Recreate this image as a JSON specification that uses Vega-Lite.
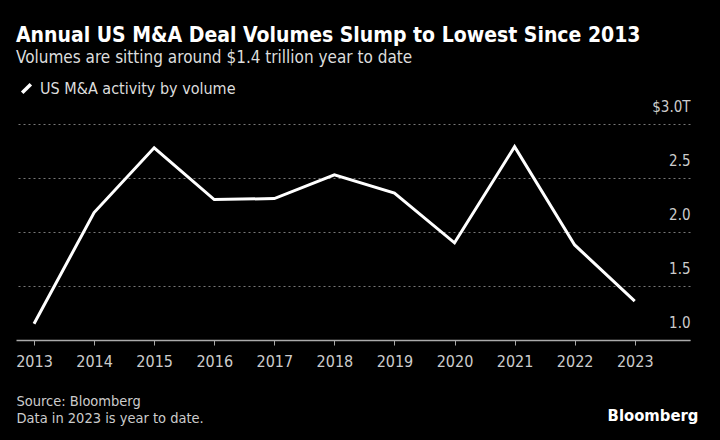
{
  "$schema": "https://vega.github.io/schema/vega-lite/v6.json",
  "autosize": "none",
  "width": 674,
  "height": 216,
  "padding": {"left": 16, "top": 124, "right": 30, "bottom": 100},
  "background": "#000000",
  "title": {
    "text": "Annual US M&A Deal Volumes Slump to Lowest Since 2013",
    "subtitle": "Volumes are sitting around $1.4 trillion year to date",
    "anchor": "start",
    "frame": "group",
    "font": "DejaVu Sans Condensed",
    "fontSize": 21,
    "fontWeight": "bold",
    "color": "#ffffff",
    "subtitleFont": "DejaVu Sans Condensed",
    "subtitleFontSize": 17,
    "subtitleColor": "#dddddd",
    "subtitlePadding": 4,
    "offset": 12
  },
  "data": {
    "values": [
      {"year": 2013, "volume": 1.15},
      {"year": 2014, "volume": 2.18},
      {"year": 2015, "volume": 2.78},
      {"year": 2016, "volume": 2.30},
      {"year": 2017, "volume": 2.31},
      {"year": 2018, "volume": 2.53},
      {"year": 2019, "volume": 2.36},
      {"year": 2020, "volume": 1.90},
      {"year": 2021, "volume": 2.79},
      {"year": 2022, "volume": 1.88},
      {"year": 2023, "volume": 1.36}
    ]
  },
  "mark": {"type": "line", "strokeWidth": 3, "strokeJoin": "miter"},
  "encoding": {
    "x": {
      "field": "year",
      "type": "quantitative",
      "scale": {"domain": [2012.7, 2023.92], "nice": false, "zero": false},
      "axis": {
        "values": [2013, 2014, 2015, 2016, 2017, 2018, 2019, 2020, 2021, 2022, 2023],
        "format": "d",
        "grid": false,
        "domainColor": "#aaaaaa",
        "domainWidth": 1.5,
        "tickColor": "#aaaaaa",
        "tickSize": 5,
        "labelColor": "#cccccc",
        "labelFont": "DejaVu Sans Condensed",
        "labelFontSize": 16,
        "labelPadding": 8,
        "title": ["Source: Bloomberg", "Data in 2023 is year to date."],
        "titleAnchor": "start",
        "titleAlign": "left",
        "titleFont": "DejaVu Sans Condensed",
        "titleFontSize": 14.5,
        "titleFontWeight": "normal",
        "titleColor": "#cccccc",
        "titleLineHeight": 17,
        "titlePadding": 25
      }
    },
    "y": {
      "field": "volume",
      "type": "quantitative",
      "scale": {"domain": [1, 3], "nice": false, "zero": false},
      "axis": {
        "orient": "right",
        "values": [1, 1.5, 2, 2.5, 3],
        "labelExpr": "datum.value == 3 ? '$3.0T' : format(datum.value, '.1f')",
        "domain": false,
        "ticks": false,
        "grid": true,
        "gridColor": "#777777",
        "gridDash": [2, 3],
        "gridWidth": 1,
        "labelAlign": "right",
        "labelBaseline": "bottom",
        "labelPadding": 0,
        "labelOffset": -10,
        "labelColor": "#cccccc",
        "labelFont": "DejaVu Sans Condensed",
        "labelFontSize": 15,
        "title": "Bloomberg",
        "titleAngle": 0,
        "titleAlign": "right",
        "titleBaseline": "middle",
        "titleX": 8,
        "titleY": 291,
        "titleFont": "DejaVu Sans Condensed",
        "titleFontSize": 16.5,
        "titleFontWeight": "bold",
        "titleColor": "#ffffff"
      }
    },
    "color": {
      "datum": "US M&A activity by volume",
      "type": "nominal",
      "scale": {"range": ["#ffffff"]},
      "legend": {
        "title": null,
        "orient": "none",
        "legendX": 0,
        "legendY": -46,
        "symbolType": "M-0.5,0.5L0.5,-0.5",
        "symbolSize": 300,
        "symbolStrokeWidth": 3.5,
        "labelColor": "#dddddd",
        "labelFont": "DejaVu Sans Condensed",
        "labelFontSize": 16,
        "labelOffset": 3,
        "labelLimit": 400
      }
    }
  },
  "config": {"view": {"stroke": null}}
}
